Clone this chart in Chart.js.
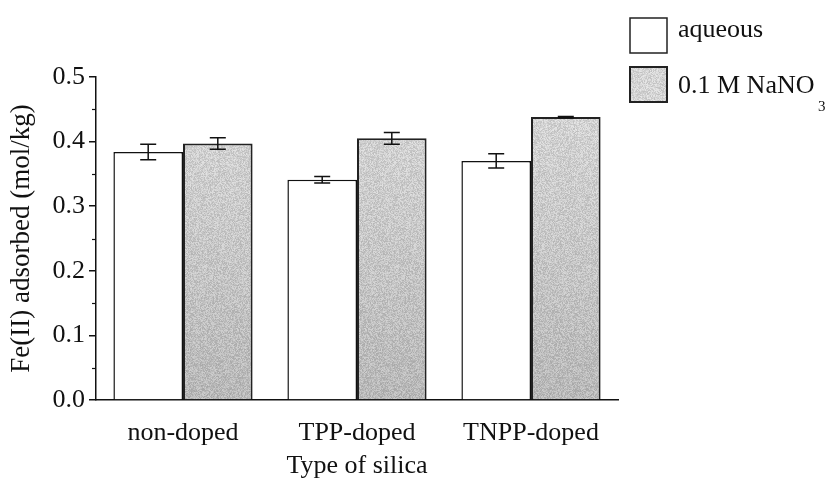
<!DOCTYPE html>
<html>
<head>
<meta charset="utf-8">
<script src="https://cdn.jsdelivr.net/npm/chart.js@4"></script>
<style>
  html, body { margin: 0; padding: 0; background: #fff; }
  #wrap { width: 829px; height: 482px; position: relative; }
</style>
</head>
<body>
<div id="wrap"><canvas id="silicaChart"></canvas></div>
<script>
const categories = ['non-doped', 'TPP-doped', 'TNPP-doped'];
const aqueous = [0.384, 0.341, 0.370];
const aqueousErr = [0.012, 0.005, 0.011];
const nitrate = [0.397, 0.405, 0.438];
const nitrateErr = [0.009, 0.009, 0.001];
const minorTicks = [0.05, 0.15, 0.25, 0.35, 0.45];

const serif = '"Liberation Serif", "Times New Roman", serif';

// speckled grey fill, a bit darker towards the bottom of the plot
function makeStipple() {
  const c = document.createElement('canvas');
  c.width = 64; c.height = 482;
  const g = c.getContext('2d');
  const img = g.createImageData(c.width, c.height);
  for (let y = 0; y < c.height; y++) {
    const t = Math.min(1, Math.max(0, (y - 110) / 290));
    const base = 212 - 28 * t;
    for (let x = 0; x < c.width; x++) {
      let n = Math.imul(x, 374761393) + Math.imul(y, 668265263);
      n = Math.imul(n ^ (n >>> 13), 1274126177);
      n = ((n ^ (n >>> 16)) & 255) / 255;
      const v = Math.round(base + (n - 0.5) * 40);
      const i = (y * c.width + x) * 4;
      img.data[i] = v; img.data[i + 1] = v; img.data[i + 2] = v; img.data[i + 3] = 255;
    }
  }
  g.putImageData(img, 0, 0);
  return g;
}
const stippleCtx = makeStipple();
const stipple = stippleCtx.createPattern(stippleCtx.canvas, 'repeat');

const errorBars = {
  id: 'errorBars',
  afterDatasetsDraw(chart) {
    const ctx = chart.ctx;
    const y = chart.scales.y;
    const errs = [aqueousErr, nitrateErr];
    ctx.save();
    ctx.strokeStyle = '#111';
    ctx.lineWidth = 1.5;
    chart.data.datasets.forEach((ds, di) => {
      chart.getDatasetMeta(di).data.forEach((bar, i) => {
        const v = ds.data[i], e = errs[di][i];
        const top = y.getPixelForValue(v + e), bot = y.getPixelForValue(v - e);
        ctx.beginPath();
        ctx.moveTo(bar.x, top); ctx.lineTo(bar.x, bot);
        ctx.moveTo(bar.x - 8, top); ctx.lineTo(bar.x + 8, top);
        ctx.moveTo(bar.x - 8, bot); ctx.lineTo(bar.x + 8, bot);
        ctx.stroke();
      });
    });
    ctx.restore();
  }
};

const minorTickMarks = {
  id: 'minorTickMarks',
  afterDraw(chart) {
    const ctx = chart.ctx;
    const y = chart.scales.y;
    ctx.save();
    ctx.strokeStyle = '#111';
    ctx.lineWidth = 1.2;
    minorTicks.forEach(v => {
      const py = Math.round(y.getPixelForValue(v)) + 0.5;
      ctx.beginPath();
      ctx.moveTo(y.right - 4, py); ctx.lineTo(y.right, py);
      ctx.stroke();
    });
    ctx.restore();
  }
};

// legend drawn by hand so the subscript 3 can sit below the line
const sideLegend = {
  id: 'sideLegend',
  afterDraw(chart) {
    const ctx = chart.ctx;
    ctx.save();
    ctx.fillStyle = '#fff';
    ctx.fillRect(630, 18, 37, 35);
    ctx.strokeStyle = '#222';
    ctx.lineWidth = 1.5;
    ctx.strokeRect(630, 18, 37, 35);
    ctx.fillStyle = stipple;
    ctx.fillRect(630, 67, 37, 35);
    ctx.lineWidth = 2;
    ctx.strokeRect(630, 67, 37, 35);
    ctx.fillStyle = '#111';
    ctx.textBaseline = 'alphabetic';
    ctx.font = '26px ' + serif;
    ctx.fillText('aqueous', 678, 37);
    ctx.fillText('0.1 M NaNO', 678, 93);
    ctx.font = '15px ' + serif;
    ctx.fillText('3', 818, 111);
    ctx.restore();
  }
};

new Chart(document.getElementById('silicaChart'), {
  type: 'bar',
  data: {
    labels: categories,
    datasets: [
      {
        label: 'aqueous',
        data: aqueous,
        backgroundColor: '#fff',
        borderColor: '#111',
        borderWidth: 1.5
      },
      {
        label: '0.1 M NaNO3',
        data: nitrate,
        backgroundColor: stipple,
        borderColor: '#222',
        borderWidth: 2
      }
    ]
  },
  options: {
    responsive: true,
    maintainAspectRatio: false,
    animation: false,
    events: [],
    layout: { padding: { top: 77, right: 211, left: 0, bottom: 0 } },
    plugins: {
      legend: { display: false },
      tooltip: { enabled: false }
    },
    datasets: {
      bar: { categoryPercentage: 0.8, barPercentage: 1.0 }
    },
    scales: {
      x: {
        offset: true,
        grid: { display: false, drawTicks: false },
        border: { display: true, color: '#111', width: 1.5 },
        ticks: { color: '#111', font: { family: serif, size: 26 }, padding: 18 },
        title: {
          display: true,
          text: 'Type of silica',
          color: '#111',
          font: { family: serif, size: 26 },
          padding: { top: 0, bottom: 0 }
        },
        afterFit(scale) { scale.height = 82; }
      },
      y: {
        min: 0,
        max: 0.5,
        ticks: {
          stepSize: 0.1,
          color: '#111',
          padding: 4,
          font: { family: serif, size: 26 },
          callback: v => v.toFixed(1)
        },
        grid: { drawOnChartArea: false, color: '#111', lineWidth: 1.5, tickLength: 7 },
        border: { display: true, color: '#111', width: 1.5 },
        title: {
          display: true,
          text: 'Fe(II) adsorbed (mol/kg)',
          color: '#111',
          font: { family: serif, size: 27 },
          padding: { top: 6, bottom: 0 }
        },
        afterFit(scale) { scale.width = 96; }
      }
    }
  },
  plugins: [errorBars, minorTickMarks, sideLegend]
});
</script>
</body>
</html>
